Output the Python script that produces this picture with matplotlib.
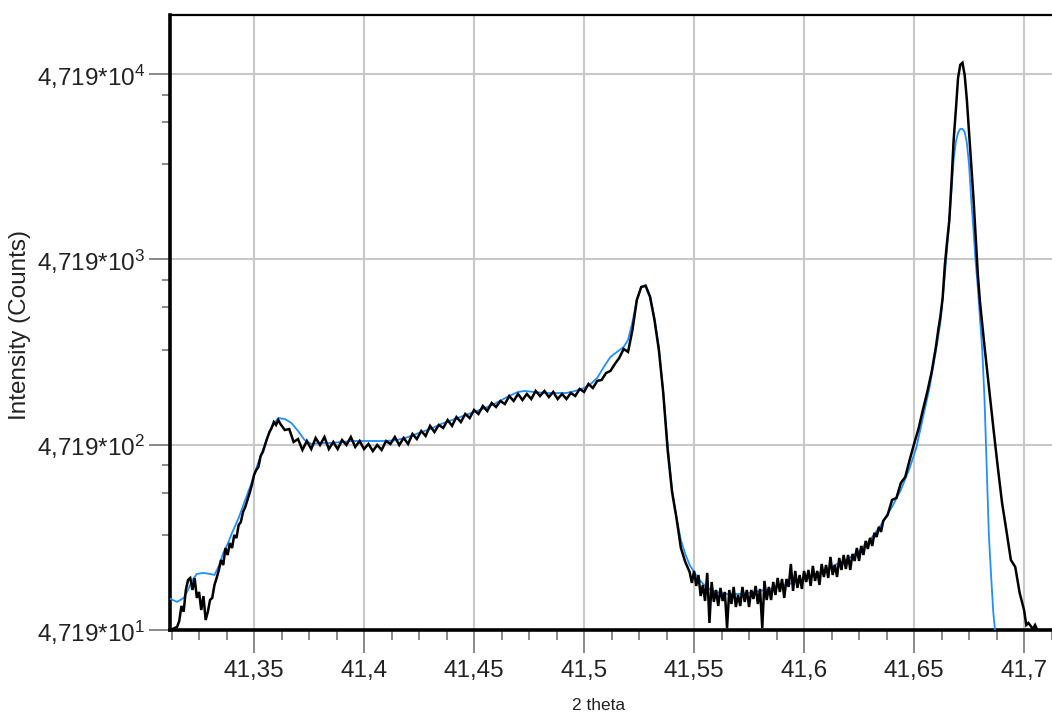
import numpy as np
import matplotlib
matplotlib.use("Agg")
import matplotlib.pyplot as plt
from matplotlib.ticker import FixedLocator, FixedFormatter

plt.rcParams['font.family'] = ['Liberation Sans', 'DejaVu Sans']
plt.rcParams['mathtext.fontset'] = 'custom'
plt.rcParams['mathtext.rm'] = 'Liberation Sans'
plt.rcParams['mathtext.it'] = 'Liberation Sans:italic'
plt.rcParams['mathtext.bf'] = 'Liberation Sans:bold'

# ---------------- data ----------------
meas_2theta = [
    41.312, 41.313, 41.314, 41.315, 41.316, 41.317, 41.318, 41.319, 41.320, 41.321,
    41.322, 41.323, 41.324, 41.325, 41.326, 41.327, 41.328, 41.329, 41.330, 41.331,
    41.332, 41.333, 41.334, 41.335, 41.336, 41.337, 41.338, 41.339, 41.340, 41.341,
    41.342, 41.343, 41.344, 41.345, 41.346, 41.347, 41.348, 41.349, 41.350, 41.351,
    41.352, 41.353, 41.354, 41.355, 41.356, 41.357, 41.358, 41.359, 41.360, 41.361,
    41.362,
    41.364, 41.366, 41.368, 41.370, 41.372, 41.374, 41.376, 41.378, 41.380, 41.382,
    41.384, 41.386, 41.388, 41.390, 41.392, 41.394, 41.396, 41.398, 41.400, 41.402,
    41.404, 41.406, 41.408, 41.410, 41.412, 41.414, 41.416, 41.418, 41.420, 41.422,
    41.424, 41.426, 41.428, 41.430, 41.432, 41.434, 41.436, 41.438, 41.440, 41.442,
    41.444, 41.446, 41.448, 41.450, 41.452, 41.454, 41.456, 41.458, 41.460, 41.462,
    41.464, 41.466, 41.468, 41.470, 41.472, 41.474, 41.476, 41.478, 41.480, 41.482,
    41.484, 41.486, 41.488, 41.490, 41.492, 41.494, 41.496, 41.498, 41.500, 41.502,
    41.504, 41.506,
    41.508, 41.510, 41.512, 41.514, 41.516, 41.518, 41.520, 41.522, 41.524, 41.526,
    41.528, 41.530, 41.532, 41.534, 41.536, 41.538, 41.540, 41.542, 41.544, 41.546,
    41.548,
    41.549, 41.550, 41.551, 41.552, 41.553, 41.554, 41.555, 41.556, 41.557, 41.558,
    41.559, 41.560, 41.561, 41.562, 41.563, 41.564, 41.565, 41.566, 41.567, 41.568,
    41.569, 41.570, 41.571, 41.572, 41.573, 41.574, 41.575, 41.576, 41.577, 41.578,
    41.579, 41.580, 41.581, 41.582, 41.583, 41.584, 41.585, 41.586, 41.587, 41.588,
    41.589, 41.590, 41.591, 41.592, 41.593, 41.594, 41.595, 41.596, 41.597, 41.598,
    41.599, 41.600, 41.601, 41.602, 41.603, 41.604, 41.605, 41.606, 41.607, 41.608,
    41.609, 41.610, 41.611, 41.612, 41.613, 41.614, 41.615, 41.616, 41.617, 41.618,
    41.619, 41.620, 41.621, 41.622, 41.623, 41.624, 41.625, 41.626, 41.627, 41.628,
    41.629, 41.630, 41.631, 41.632, 41.633, 41.634, 41.635, 41.636,
    41.638, 41.640, 41.642, 41.644, 41.646, 41.648, 41.650, 41.652, 41.654, 41.656,
    41.658, 41.660, 41.661, 41.662, 41.663, 41.664, 41.665, 41.666, 41.667, 41.668,
    41.669, 41.670, 41.671, 41.672, 41.673, 41.674, 41.675, 41.676, 41.677, 41.678,
    41.679, 41.680, 41.681, 41.682, 41.684, 41.686, 41.688, 41.690, 41.692, 41.694,
    41.696, 41.698, 41.700, 41.701, 41.702, 41.703, 41.704, 41.705, 41.706, 41.708,
    41.712,
]
meas_counts = [
    47.0, 47.8, 48.4, 49.0, 52.7, 63.6, 59.2, 77.6, 87.8, 90.0,
    77.6, 90.0, 70.3, 75.7, 60.5, 71.9, 53.4, 59.2, 68.5, 70.3,
    82.5, 90.0, 99.4, 112.6, 105.8, 130.6, 119.8, 139.1, 130.6, 153.6,
    148.0, 173.9, 180.5, 204.5, 217.5, 237.3, 258.9, 286.0, 323.9, 344.7,
    357.8, 410, 431, 470, 513, 552, 581, 625, 603, 641,
    610,
    566, 573, 488, 506, 442, 494, 447, 513, 470, 519,
    447, 488, 447, 500, 470, 519, 459, 494, 447, 476,
    436, 470, 442, 494, 476, 519, 470, 513, 476, 539,
    506, 559, 526, 596, 552, 603, 581, 641, 596, 665,
    625, 691, 657, 726, 691, 763, 717, 792, 754, 812,
    782, 864, 812, 886, 822, 886, 832, 920, 864, 920,
    853, 909, 832, 886, 832, 897, 864, 943, 909, 1003,
    954, 1042,
    1055, 1150, 1179, 1287, 1386, 1550, 1494, 1963, 2851, 3350,
    3393, 2959, 2223, 1531, 897, 442, 262, 190, 131, 110,
    97,
    84.7, 98.3, 81.6, 93.5, 72.0, 82.6, 67.7, 95.9, 51.5, 85.7,
    66.9, 77.6, 63.6, 79.6, 67.7, 75.7, 48.4, 77.6, 65.2, 80.6,
    62.8, 72.9, 63.6, 80.6, 66.9, 77.6, 62.8, 77.6, 69.4, 81.6,
    65.2, 78.6, 48.4, 86.8, 68.5, 80.6, 68.5, 85.7, 72.9, 90.1,
    75.7, 89.0, 70.3, 89.0, 80.6, 107.2, 76.7, 98.3, 79.6, 93.5,
    78.6, 98.3, 85.7, 99.5, 81.6, 104.6, 86.8, 98.3, 82.6, 107.2,
    91.2, 105.9, 90.1, 117.0, 93.5, 105.9, 91.2, 115.5, 99.5, 119.9,
    100.7, 119.9, 99.5, 121.4, 111.3, 130.8, 111.3, 134.1, 119.9, 142.7,
    129.2, 148.2, 134.1, 157.7, 150.0, 169.9, 159.6, 183.1,
    197.3, 237.6, 243.5, 293.4, 316.1, 390.3, 476, 573, 726, 908,
    1165, 1609, 1963, 2337, 2922, 4404, 5863, 7611, 12203, 20826,
    30234, 44993, 52890, 54270, 46710, 34235, 22715, 15264, 10130, 6239,
    3889, 2746, 2089, 1609, 967, 588, 362, 229, 161.6, 112.7,
    103.3, 74.8, 60.5, 50.2, 51.5, 49.6, 47.8, 50.2, 47.2, 46.5,
    46.0,
]

fit_2theta = [
    41.312, 41.315, 41.318, 41.320, 41.322, 41.324, 41.327, 41.330, 41.332, 41.334,
    41.336, 41.338, 41.340, 41.343, 41.346, 41.349, 41.352, 41.355, 41.358, 41.361,
    41.364, 41.367, 41.370, 41.373, 41.376, 41.380, 41.385, 41.390, 41.395, 41.400,
    41.405, 41.410, 41.415, 41.420, 41.425, 41.430, 41.435, 41.440, 41.445, 41.450,
    41.455, 41.460, 41.465, 41.470, 41.473, 41.477, 41.482, 41.487, 41.492, 41.496,
    41.500, 41.503, 41.506, 41.509, 41.512, 41.515, 41.518, 41.520, 41.522, 41.524,
    41.526, 41.528, 41.530, 41.532, 41.534, 41.536, 41.538, 41.540, 41.542, 41.544,
    41.546, 41.548, 41.552, 41.556, 41.560, 41.565, 41.570, 41.575, 41.580, 41.585,
    41.590, 41.595, 41.600, 41.605, 41.610, 41.615, 41.620, 41.625, 41.630, 41.635,
    41.640, 41.644, 41.648, 41.651, 41.654, 41.657, 41.660, 41.662, 41.664, 41.666,
    41.668, 41.669, 41.670, 41.671, 41.672, 41.673, 41.674, 41.675, 41.676, 41.677,
    41.678, 41.679, 41.680, 41.681, 41.682, 41.683, 41.684, 41.685, 41.686, 41.687,
]
fit_counts = [
    69.4, 66.9, 70.3, 77.6, 87.9, 94.7, 95.9, 94.7, 93.5, 104.6,
    122.9, 137.5, 157.7, 190.0, 237.6, 296.9, 380.8, 476, 588, 657,
    649, 617, 559, 500, 476, 482, 482, 488, 494, 494,
    494, 494, 500, 519, 546, 573, 610, 641, 674, 708,
    744, 792, 853, 909, 920, 909, 897, 897, 897, 920,
    954, 1003, 1082, 1240, 1404, 1494, 1589, 1734, 2168, 2851,
    3351, 3435, 2996, 2280, 1589, 897, 470, 269, 192, 144.5,
    121.4, 105.9, 89.0, 79.6, 75.7, 73.8, 73.8, 74.8, 76.7, 78.6,
    81.6, 84.7, 89.0, 93.5, 99.5, 107.2, 114.1, 126.0, 144.5, 174.2,
    218, 269, 353, 453, 657, 954, 1531, 2168, 3889, 7518,
    16243, 20318, 22715, 23876, 23876, 23006, 20061, 15264, 9880, 6805,
    4573, 3309, 2223, 1531, 843, 362, 153.8, 93.5, 59.0, 44.3,
]

x_ticks = [41.35, 41.40, 41.45, 41.50, 41.55, 41.60, 41.65, 41.70]
x_tick_labels = ['41,35', '41,4', '41,45', '41,5', '41,55', '41,6', '41,65', '41,7']
y_ticks = [47.19, 471.9, 4719.0, 47190.0]
y_tick_labels = [r'4,719*10$^{1}$', r'4,719*10$^{2}$', r'4,719*10$^{3}$', r'4,719*10$^{4}$']

# ---------------- figure ----------------
W, H = 1052, 716
fig = plt.figure(figsize=(W / 100, H / 100), dpi=100)
left, right, top, bottom = 170, 1052, 15, 630
ax = fig.add_axes([left / W, 1 - bottom / H, (right - left) / W, (bottom - top) / H])

ax.plot(fit_2theta, fit_counts, color='#1f8fff', lw=1.3, zorder=3)
ax.plot(meas_2theta, meas_counts, color='black', lw=1.8, zorder=4,
        solid_joinstyle='miter')

ax.set_yscale('log')
ax.set_xlim(41.3118, 41.7127)
ax.set_ylim(47.19, 98250)

ax.xaxis.set_major_locator(FixedLocator(x_ticks))
ax.xaxis.set_major_formatter(FixedFormatter(x_tick_labels))
ax.xaxis.set_minor_locator(FixedLocator(np.arange(41.3125, 41.713, 0.0125)))

minor_y = []
for base in [47.19, 471.9, 4719.0]:
    for q in (0.25, 0.5, 0.75):
        minor_y.append(base * (1 + 9 * q))
ax.yaxis.set_major_locator(FixedLocator(y_ticks))
ax.yaxis.set_major_formatter(FixedFormatter(y_tick_labels))
ax.yaxis.set_minor_locator(FixedLocator(minor_y))
ax.yaxis.set_minor_formatter(FixedFormatter([''] * len(minor_y)))

tick_col = '#808080'
lab_col = '#222222'
ax.tick_params(axis='y', which='major', length=15, width=1.3, color=tick_col,
               pad=3, labelsize=17.5, labelcolor=lab_col)
ax.tick_params(axis='y', which='minor', length=6, width=1.3, color=tick_col)
ax.tick_params(axis='x', which='major', length=16.5, width=1.3, color=tick_col,
               pad=5, labelsize=17.5, labelcolor=lab_col)
ax.tick_params(axis='x', which='minor', length=7.5, width=1.3, color=tick_col)

ax.grid(True, which='major', color='#c8c8c8', linewidth=1.5)
ax.set_axisbelow(True)

for s in ['left', 'bottom']:
    ax.spines[s].set_linewidth(2.6)
    ax.spines[s].set_color('black')
ax.spines['top'].set_linewidth(1.6)
ax.spines['top'].set_color('black')
ax.spines['right'].set_visible(False)

fig.text(20 / W, 1 - 325 / H, 'Intensity (Counts)', rotation=90, ha='center',
         va='center', fontsize=17.5, color=lab_col)
fig.text(599 / W, 1 - 705 / H, '2 theta', ha='center', va='center',
         fontsize=12.5, color=lab_col)

fig.savefig('out.png', dpi=100)
